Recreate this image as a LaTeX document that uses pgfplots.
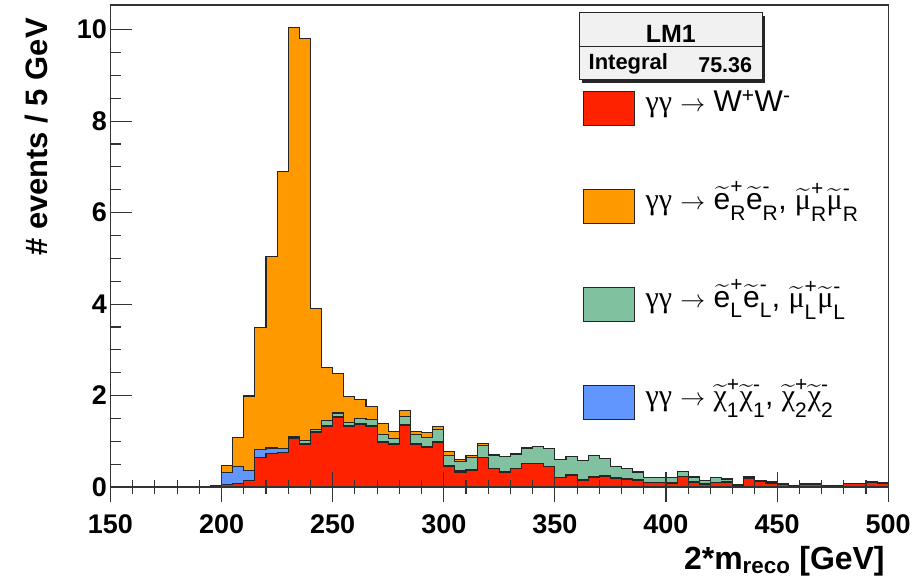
\documentclass[border=0pt]{standalone}
\usepackage{fontspec}
\setmainfont{Liberation Sans}
\newfontfamily\symfont{Liberation Serif}
\usepackage{amsmath}
\usepackage{pgfplots}
\usepackage{pgfplotstable}
\pgfplotsset{compat=1.18}

\definecolor{wwred}{RGB}{255,34,0}
\definecolor{slepR}{RGB}{255,153,0}
\definecolor{slepL}{RGB}{128,194,160}
\definecolor{chino}{RGB}{98,150,255}
\definecolor{statgrey}{RGB}{241,241,241}

% sparticle with tilde, superscript charge and subscript label
\newcommand\spart[3]{$\widetilde{\mbox{#1}}^{\text{\raisebox{1pt}{#2}}}_{\text{\raisebox{-4pt}{#3}}}$}

% stacked levels per 5 GeV bin (left bin edge):
% ww = WW, chi = WW+charginos, sL = ... + left sleptons, sR = ... + right sleptons
\pgfplotstableread{
x    ww    chi   sL    sR
150  0     0     0     0
195  0.03  0.03  0.03  0.03
200  0.05  0.32  0.32  0.47
205  0.08  0.44  0.44  1.09
210  0.15  0.37  0.37  1.99
215  0.64  0.82  0.82  3.48
220  0.73  0.85  0.86  5.04
225  0.75  0.84  0.85  6.90
230  1.06  1.08  1.11  10.04
235  0.93  0.95  1.01  9.80
240  1.20  1.22  1.25  3.91
245  1.33  1.35  1.46  2.61
250  1.53  1.54  1.62  2.48
255  1.32  1.34  1.42  1.98
260  1.37  1.39  1.50  1.91
265  1.32  1.34  1.47  1.77
270  0.97  0.99  1.14  1.39
275  0.93  0.95  1.07  1.22
280  1.35  1.36  1.55  1.68
285  0.93  0.95  1.15  1.22
290  0.86  0.88  1.08  1.19
295  0.98  0.99  1.26  1.32
300  0.44  0.46  0.69  0.77
305  0.33  0.35  0.56  0.61
310  0.37  0.38  0.64  0.68
315  0.64  0.65  0.90  0.95
320  0.40  0.41  0.69  0.72
325  0.33  0.34  0.66  0.66
330  0.40  0.41  0.72  0.73
335  0.51  0.52  0.84  0.86
340  0.51  0.52  0.88  0.88
345  0.44  0.45  0.84  0.84
350  0.20  0.21  0.60  0.60
355  0.26  0.27  0.66  0.66
360  0.15  0.16  0.58  0.58
365  0.22  0.23  0.69  0.69
370  0.24  0.25  0.62  0.62
375  0.19  0.20  0.44  0.44
380  0.17  0.18  0.40  0.40
385  0.15  0.16  0.33  0.33
390  0.09  0.10  0.20  0.20
395  0.09  0.10  0.20  0.20
400  0.08  0.09  0.20  0.20
405  0.23  0.24  0.34  0.34
410  0.10  0.11  0.22  0.22
415  0.06  0.07  0.15  0.15
420  0.09  0.10  0.20  0.20
425  0.10  0.11  0.17  0.18
430  0.04  0.05  0.06  0.06
435  0.19  0.22  0.22  0.22
440  0.12  0.13  0.15  0.15
445  0.08  0.09  0.11  0.11
450  0.06  0.06  0.07  0.07
455  0.04  0.04  0.04  0.04
460  0.06  0.06  0.07  0.07
465  0.06  0.06  0.07  0.07
470  0.04  0.04  0.04  0.04
475  0.04  0.04  0.04  0.04
480  0.07  0.07  0.08  0.08
485  0.07  0.07  0.08  0.08
490  0.10  0.10  0.12  0.12
495  0.08  0.08  0.10  0.10
500  0.08  0.08  0.10  0.10
}\stacktab

\begin{document}
\begin{tikzpicture}
\pgfplotsset{
  framed/.style={
    at={(0,0)}, anchor=south west,
    scale only axis, width=778.4pt, height=482.5pt,
    xmin=150, xmax=500, ymin=0, ymax=10.54,
    /pgf/number format/assume math mode=true,
    tick label style={font=\bfseries\fontsize{27}{27}\selectfont},
  },
  hist/.style={const plot mark left, draw=black!85, line width=1.1pt, forget plot},
}
\begin{axis}[framed,
  axis on top,
  axis line style={black!80, line width=1.1pt},
  xtick=\empty,
  ytick={0,2,...,10}, minor y tick num=3,
  ytick pos=left, tick align=inside,
  major tick length=22pt, minor tick length=11pt,
  tick style={black!80, line width=1.1pt},
  legend style={at={(rel axis cs:0.607,0.822)}, anchor=north west,
    draw=none, fill=none, inner sep=0pt, row sep=63pt,
    font=\fontsize{30}{30}\selectfont,
    nodes={inner sep=0pt, text height=21pt, text depth=14pt},
    cells={anchor=west}},
  legend image code/.code={\draw[#1] (0pt,-17pt) rectangle (51pt,17pt); \path (62pt,0pt);},
]
\addplot[hist, fill=slepR] table[x=x, y=sR] {\stacktab} \closedcycle;
\addplot[hist, fill=slepL] table[x=x, y=sL] {\stacktab} \closedcycle;
\addplot[hist, fill=chino] table[x=x, y=chi] {\stacktab} \closedcycle;
\addplot[hist, fill=wwred] table[x=x, y=ww] {\stacktab} \closedcycle;

\addlegendimage{fill=wwred, draw=black!85, line width=1pt}
\addlegendentry{{\symfont γγ} $\rightarrow$ W$^{\text{+}}$W$^{\text{-}}$}
\addlegendimage{fill=slepR, draw=black!85, line width=1pt}
\addlegendentry{{\symfont γγ} $\rightarrow$ \spart{e}{+}{R}\spart{e}{-}{R}, \spart{\symfont μ}{+}{R}\spart{\symfont μ}{-}{R}}
\addlegendimage{fill=slepL, draw=black!85, line width=1pt}
\addlegendentry{{\symfont γγ} $\rightarrow$ \spart{e}{+}{L}\spart{e}{-}{L}, \spart{\symfont μ}{+}{L}\spart{\symfont μ}{-}{L}}
\addlegendimage{fill=chino, draw=black!85, line width=1pt}
\addlegendentry{{\symfont γγ} $\rightarrow$ \spart{\symfont χ}{+}{1}\spart{\symfont χ}{-}{1}, \spart{\symfont χ}{+}{2}\spart{\symfont χ}{-}{2}}
\end{axis}

% x axis ticks cross the frame line
\begin{axis}[framed,
  hide y axis,
  axis x line*=bottom,
  axis line style={black!80, line width=1.1pt},
  xtick={150,200,...,500}, minor x tick num=4,
  tick align=center,
  major tick length=30pt, minor tick length=14pt,
  tick style={black!80, line width=1.1pt},
  xticklabel style={yshift=-9pt},
  xlabel={2*m$_{\text{reco}}$ [GeV]},
  xlabel style={at={(rel axis cs:1,0)}, anchor=base east,
    font=\bfseries\fontsize{32}{32}\selectfont, yshift=-83pt},
]
\end{axis}

\begin{scope}[x=1pt, y=-1pt, shift={(-110.6pt,487.5pt)}]
  \path[use as bounding box] (0,0) rectangle (914,584);
  % y axis title, reading upwards, right end near the top of the frame
  \node[rotate=90, anchor=base east, inner sep=0pt,
    font=\bfseries\fontsize{31}{31}\selectfont] at (48,18) {\# events / 5 GeV};
  % statistics box
  \fill[black!85] (583,16) rectangle (766,83);
  \filldraw[fill=statgrey, draw=black!85, line width=1pt] (580,13) rectangle (763,80);
  \draw[black!85, line width=1pt] (580,47) -- (763,47);
  \node[anchor=base, font=\bfseries\fontsize{25}{25}\selectfont, inner sep=0pt] at (671.5,43) {LM1};
  \node[anchor=base west, font=\bfseries\fontsize{22}{22}\selectfont, inner sep=0pt] at (589,70) {Integral};
  \node[anchor=base east, font=\bfseries\fontsize{21.5}{21.5}\selectfont, inner sep=0pt] at (753,72.5) {75.36};
\end{scope}
\end{tikzpicture}
\end{document}
